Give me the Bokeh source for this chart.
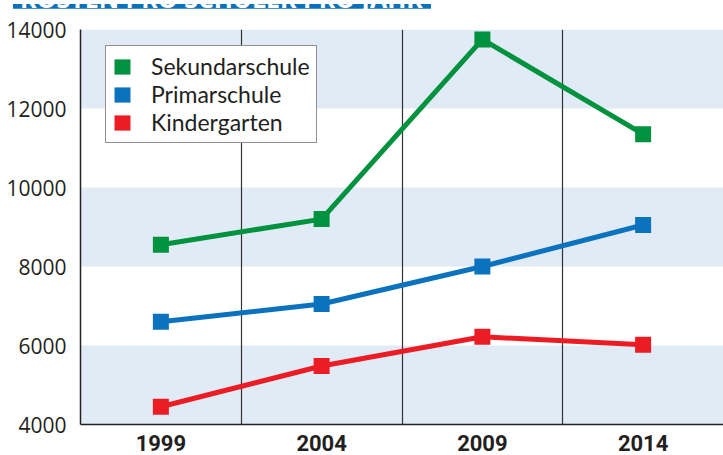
from bokeh.plotting import figure
from bokeh.layouts import column
from bokeh.models import Range1d, FixedTicker, Legend, LegendItem, BoxAnnotation, Div
from bokeh.embed import file_html
from bokeh.resources import INLINE

# ---- data ----
years = ["1999", "2004", "2009", "2014"]
sekundarschule = [8550, 9200, 13750, 11350]
primarschule = [6600, 7050, 8000, 9050]
kindergarten = [4450, 5480, 6220, 6020]
y_ticks = [4000, 6000, 8000, 10000, 12000, 14000]
series_names = ["Sekundarschule", "Primarschule", "Kindergarten"]
title_text = "KOSTEN PRO SCHÜLER PRO JAHR"

GREEN = "#00923f"
BLUE = "#0b72bd"
RED = "#ec1c24"
BAND = "#e1ebf5"
TITLE_BLUE = "#0a72bb"

W = 723

# ---- cut-off title banner (top strip) ----
banner_html = (
    '<div style="position:relative;width:723px;height:8px;overflow:hidden;">'
    '<div style="position:absolute;left:13px;top:0;width:418px;height:7px;background:' + TITLE_BLUE + ';"></div>'
    '<div style="position:absolute;left:431px;top:5px;width:292px;height:2px;background:#7fb2de;"></div>'
    '<div style="position:absolute;left:20px;bottom:1px;color:white;font-family:\'Open Sans\';'
    'font-weight:bold;font-size:25px;line-height:25px;white-space:nowrap;">'
    + title_text + '</div></div>'
)
banner = Div(text=banner_html, width=W, height=8, margin=0)

# ---- main chart ----
xs = [i + 0.5 for i in range(len(years))]

p = figure(width=W, height=447,
           x_range=Range1d(0, len(years)),
           y_range=Range1d(y_ticks[0], y_ticks[-1]),
           output_backend="svg", toolbar_location=None,
           min_border_left=80, min_border_right=0,
           min_border_top=21, min_border_bottom=31, margin=0)
p.outline_line_color = None
p.background_fill_color = "white"
p.border_fill_color = "white"

for i in range(0, len(y_ticks) - 1, 2):
    p.add_layout(BoxAnnotation(bottom=y_ticks[i], top=y_ticks[i + 1],
                               fill_color=BAND, fill_alpha=1.0,
                               line_color=None, level="image"))

p.ygrid.grid_line_color = None
p.xgrid.ticker = FixedTicker(ticks=list(range(1, len(years))))
p.xgrid.grid_line_color = "#333333"
p.xgrid.grid_line_width = 1.2
p.xgrid.level = "underlay"

p.yaxis.ticker = FixedTicker(ticks=y_ticks)
p.yaxis.major_tick_line_color = None
p.yaxis.minor_tick_line_color = None
p.yaxis.axis_line_color = "#222222"
p.yaxis.axis_line_width = 1.5
p.yaxis.major_label_text_font = "Open Sans"
p.yaxis.major_label_text_font_size = "21px"
p.yaxis.major_label_text_color = "#231f20"
p.yaxis.major_label_standoff = 8

p.xaxis.ticker = FixedTicker(ticks=xs)
p.xaxis.major_label_overrides = {x: y for x, y in zip(xs, years)}
p.xaxis.major_tick_line_color = None
p.xaxis.minor_tick_line_color = None
p.xaxis.axis_line_color = "#222222"
p.xaxis.axis_line_width = 1.5
p.xaxis.major_label_text_font = "Roboto"
p.xaxis.major_label_text_font_style = "bold"
p.xaxis.major_label_text_font_size = "22px"
p.xaxis.major_label_text_color = "#231f20"
p.xaxis.major_label_standoff = 4

items = []
for name, vals, col in zip(series_names, [sekundarschule, primarschule, kindergarten], [GREEN, BLUE, RED]):
    p.line(xs, vals, line_color=col, line_width=5)
    r = p.rect(x=xs, y=vals, width=16, height=16, width_units="screen",
               height_units="screen", fill_color=col, line_color=None)
    items.append(LegendItem(label=name, renderers=[r]))

legend = Legend(items=items, location=(25, 281))
legend.border_line_color = "#222222"
legend.border_line_width = 1.5
legend.background_fill_color = "white"
legend.background_fill_alpha = 1.0
legend.label_text_font = "Lato"
legend.label_text_font_size = "23px"
legend.label_text_color = "#231f20"
legend.glyph_width = 20
legend.glyph_height = 19
legend.label_height = 22
legend.label_standoff = 19
legend.spacing = 0
legend.padding = 6
legend.margin = 0
p.add_layout(legend, "center")

layout = column(banner, p, spacing=0)
open("out.html", "w").write(file_html(layout, INLINE))
